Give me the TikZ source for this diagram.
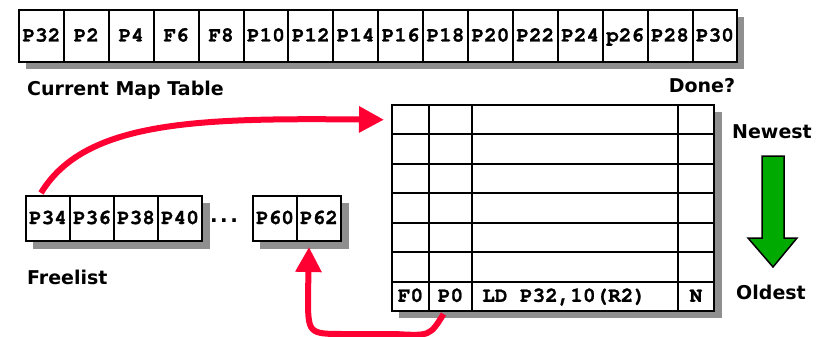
\documentclass[tikz,border=0pt]{standalone}
\usepackage{fontspec}
\setmainfont{DejaVu Sans}
\newfontfamily\cellfont[FakeBold=1.2]{TeX Gyre Cursor}
\usetikzlibrary{arrows.meta,calc}
\definecolor{shadowgray}{RGB}{143,143,143}
\definecolor{linkred}{RGB}{255,0,51}
\definecolor{agegreen}{RGB}{0,170,0}
\begin{document}
\begin{tikzpicture}[x=1pt,y=-1pt,
  celltext/.style={font=\cellfont\bfseries\fontsize{21}{21}\selectfont, inner sep=0pt,
    text height=11pt, text depth=0pt},
  tablecell/.style={celltext, draw, line width=2pt, fill=white, anchor=north west},
  mapcell/.style={tablecell, minimum width=44.9pt, minimum height=52pt},
  freecell/.style={tablecell, minimum width=44pt, minimum height=45pt},
  robcell/.style={tablecell, minimum height=29.43pt},
  shade/.style={fill=shadowgray},
  caption/.style={font=\bfseries\fontsize{19}{19}\selectfont, inner sep=0pt},
  link/.style={draw=linkred, line width=6pt, -{Triangle[length=25pt,width=25pt]}}]
\useasboundingbox (0,0) rectangle (825,337);

% current map table
\fill[shade] (26,17) rectangle (744,69);
\foreach \t [count=\i] in {P32,P2,P4,F6,F8,P10,P12,P14,P16,P18,P20,P22,P24,p26,P28,P30}
  \node[mapcell] (m\i) at ({18+44.9*(\i-1)},9) {\t};
\node[caption, anchor=west] (maplabel) at (27,90) {Current Map Table};

% free list
\fill[shade] (33,203) rectangle (210,249);
\fill[shade] (260,203) rectangle (349,249);
\foreach \t [count=\i] in {P34,P36,P38,P40}
  \node[freecell] (f\i) at ({25+44*(\i-1)},195) {\t};
\node[freecell] (f5) at (252,195) {P60};
\node[freecell] (f6) at (296,195) {P62};
\node[caption, font=\bfseries\fontsize{20}{20}\selectfont, anchor=base] (dots) at (224,222)
  {.\kern2.5pt.\kern2.5pt.};
\node[caption, anchor=west] (freelabel) at (27,277) {Freelist};

% reorder buffer
\fill[shade] (399,112) rectangle (722,318);
\foreach \r in {1,...,7} {
  \node[robcell, minimum width=37pt]  (r\r c1) at (391,{104+29.43*(\r-1)}) {};
  \node[robcell, minimum width=43pt]  (r\r c2) at (428,{104+29.43*(\r-1)}) {};
  \node[robcell, minimum width=206pt] (r\r c3) at (471,{104+29.43*(\r-1)}) {};
  \node[robcell, minimum width=36pt]  (r\r c4) at (677,{104+29.43*(\r-1)}) {};
}
\node[celltext] at (r7c1) {F0};
\node[celltext] at (r7c2) {P0};
\node[celltext, anchor=west] (instr) at ($(r7c3.west)+(11,0)$) {LD P32,10(R2)};
\node[celltext] at (r7c4) {N};
\node[caption] (donelabel) at (702,86) {Done?};

% age direction
\node[caption] (newest) at (772,132) {Newest};
\node[caption] (oldest) at (771,292) {Oldest};
\draw[fill=agegreen, line width=1.5pt, line join=miter]
  (762,156) -- (784,156) -- (784,238) -- (797,238) -- (773,267)
  -- (748,238) -- (762,238) -- cycle;

% allocation and release of physical registers
\draw[link] ($(f1.north)+(-7,-2)$) .. controls (85,120) and (200,118) .. ($(r1c1.west)+(-7,0)$);
\draw[link] ($(r7c2.south)+(-7,2)$) .. controls (430,336) .. (395,334)
  -- (345,334) .. controls (308,334) .. (308,295) -- ($(f6.south)+(-10,5)$);
\end{tikzpicture}
\end{document}
